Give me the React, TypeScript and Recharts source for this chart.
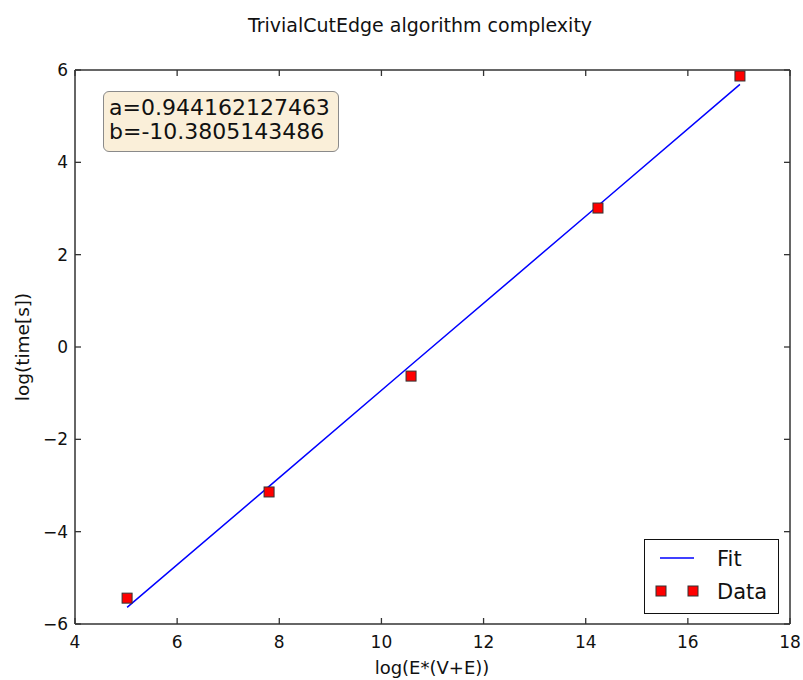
import React from 'react';
import { ComposedChart, Line, Scatter, XAxis, YAxis } from 'recharts';

// values
const logSize = [5.02, 7.8, 10.58, 14.24, 17.02];
const logTime = [-5.44, -3.14, -0.63, 3.01, 5.87];
const fitTime = [-5.64, -3.02, -0.39, 3.06, 5.69];
const xTicks = [4, 6, 8, 10, 12, 14, 16, 18];
const yTicks = [-6, -4, -2, 0, 2, 4, 6];
const fitParams = ['a=0.944162127463', 'b=-10.3805143486'];

const data = logSize.map((x, i) => ({ x, time: logTime[i], fit: fitTime[i] }));

const FONT = '"DejaVu Sans", sans-serif';
const AXIS = '#333';
const TICK_LEN = 6;

const fmt = (v: number) => (v < 0 ? '\u2212' + Math.abs(v) : String(v));

// matplotlib style: ticks point into the axes box
function makeTick(side: 'bottom' | 'top' | 'left' | 'right', margin: number, withLabel: boolean) {
  return (props: any) => {
    const { x, y, payload } = props;
    const v = payload.value;
    if (side === 'bottom' || side === 'top') {
      const axisY = side === 'bottom' ? y - margin : y + margin;
      const y2 = side === 'bottom' ? axisY - TICK_LEN : axisY + TICK_LEN;
      return (
        <g>
          <line x1={x} x2={x} y1={axisY} y2={y2} stroke={AXIS} strokeWidth={1.3} />
          {withLabel && (
            <text x={x} y={y} dy="0.71em" textAnchor="middle" fontSize={17} fontFamily={FONT} fill="#111">
              {fmt(v)}
            </text>
          )}
        </g>
      );
    }
    const axisX = side === 'left' ? x + margin : x - margin;
    const x2 = side === 'left' ? axisX + TICK_LEN : axisX - TICK_LEN;
    return (
      <g>
        <line x1={axisX} x2={x2} y1={y} y2={y} stroke={AXIS} strokeWidth={1.3} />
        {withLabel && (
          <text x={x} y={y} dy="0.355em" textAnchor="end" fontSize={17} fontFamily={FONT} fill="#111">
            {fmt(v)}
          </text>
        )}
      </g>
    );
  };
}

const Square = (props: any) => {
  const { cx, cy } = props;
  return <rect x={cx - 5} y={cy - 5} width={10} height={10} fill="#ff0000" stroke="#333" strokeWidth={1} />;
};

const axisLine = { stroke: AXIS, strokeWidth: 1.5 };

export default function App() {
  return (
    <div style={{ position: 'absolute', left: 0, top: 0, width: 803, height: 680, background: '#fff' }}>
      <ComposedChart width={803} height={680} data={data} margin={{ top: 69, right: 12, left: 0, bottom: 0 }}>
        <XAxis
          dataKey="x"
          type="number"
          domain={[4, 18]}
          ticks={xTicks}
          allowDataOverflow
          height={56}
          tickSize={0}
          tickMargin={12}
          tickLine={false}
          axisLine={axisLine}
          tick={makeTick('bottom', 12, true)}
          interval={0}
        />
        {/* top/right axes share the same domains (axes of zero size are skipped, hence 1px) */}
        <XAxis
          xAxisId="top"
          dataKey="x"
          orientation="top"
          type="number"
          domain={[4, 18]}
          ticks={xTicks}
          allowDataOverflow
          height={1}
          tickSize={0}
          tickMargin={0}
          tickLine={false}
          axisLine={axisLine}
          tick={makeTick('top', 0, false)}
          interval={0}
        />
        <YAxis
          type="number"
          domain={[-6, 6]}
          ticks={yTicks}
          allowDataOverflow
          width={75}
          tickSize={0}
          tickMargin={7}
          tickLine={false}
          axisLine={axisLine}
          tick={makeTick('left', 7, true)}
          interval={0}
        />
        <YAxis
          yAxisId="right"
          orientation="right"
          type="number"
          domain={[-6, 6]}
          ticks={yTicks}
          allowDataOverflow
          width={1}
          tickSize={0}
          tickMargin={0}
          tickLine={false}
          axisLine={axisLine}
          tick={makeTick('right', 0, false)}
          interval={0}
        />
        <Line
          dataKey="fit"
          name="Fit"
          stroke="#0000ff"
          strokeWidth={1.5}
          dot={false}
          activeDot={false}
          isAnimationActive={false}
        />
        <Scatter
          dataKey="time"
          name="Data"
          xAxisId="top"
          yAxisId="right"
          shape={<Square />}
          isAnimationActive={false}
        />
      </ComposedChart>

      {/* title and axis labels */}
      <svg width={803} height={680} style={{ position: 'absolute', left: 0, top: 0, pointerEvents: 'none' }}>
        <text x={420} y={32} textAnchor="middle" fontSize={19} fontFamily={FONT} fill="#111">
          TrivialCutEdge algorithm complexity
        </text>
        <text x={432} y={674} textAnchor="middle" fontSize={18} fontFamily={FONT} fill="#111">
          log(E*(V+E))
        </text>
        <text
          x={23}
          y={347}
          transform="rotate(-90 23 347)"
          textAnchor="middle"
          dy="0.35em"
          fontSize={18.5}
          fontFamily={FONT}
          fill="#111"
        >
          log(time[s])
        </text>
      </svg>

      {/* fit parameter box */}
      <div
        style={{
          position: 'absolute',
          left: 103,
          top: 91,
          width: 236,
          height: 61,
          boxSizing: 'border-box',
          border: '1px solid #8a8a8a',
          borderRadius: 6,
          background: '#faefd9',
          padding: '4px 0 0 5px',
          fontFamily: FONT,
          fontSize: 22,
          lineHeight: '24px',
          color: '#111',
        }}
      >
        {fitParams.map((s) => (
          <div key={s}>{s}</div>
        ))}
      </div>

      {/* legend */}
      <div
        style={{
          position: 'absolute',
          left: 644,
          top: 539,
          width: 135,
          height: 75,
          boxSizing: 'border-box',
          border: '1px solid #111',
          background: '#fff',
          fontFamily: FONT,
          fontSize: 21,
          color: '#111',
        }}
      >
        <svg width={135} height={75} style={{ position: 'absolute', left: -1, top: -1 }}>
          <line x1={16} x2={50} y1={19} y2={19} stroke="#0000ff" strokeWidth={1.5} />
          <rect x={12} y={47} width={10} height={10} fill="#ff0000" stroke="#333" strokeWidth={1} />
          <rect x={44} y={47} width={10} height={10} fill="#ff0000" stroke="#333" strokeWidth={1} />
          <text x={73} y={19} dy="0.36em" fontSize={21} fontFamily={FONT} fill="#111">
            Fit
          </text>
          <text x={73} y={52} dy="0.36em" fontSize={21} fontFamily={FONT} fill="#111">
            Data
          </text>
        </svg>
      </div>
    </div>
  );
}
